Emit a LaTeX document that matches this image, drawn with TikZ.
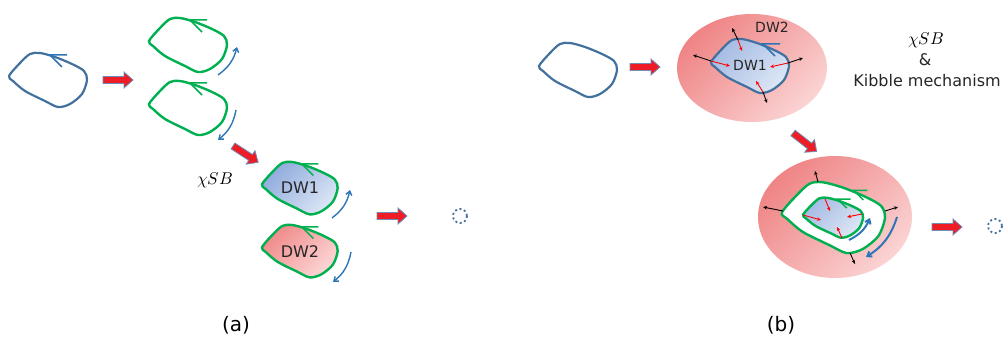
\documentclass[tikz,border=0pt]{standalone}
\usepackage{fontspec}
\usepackage{unicode-math}
\setmainfont{DejaVu Sans}
\setmathfont{Latin Modern Math}
\usetikzlibrary{arrows.meta}

\definecolor{wallblue}{HTML}{41719C}
\definecolor{tickblue}{HTML}{2E75B6}
\definecolor{wallgreen}{HTML}{00B050}
\definecolor{arrowred}{HTML}{EE1C25}
\definecolor{arrowedge}{HTML}{6F8DB9}
\definecolor{dwblueA}{HTML}{8FAADC}
\definecolor{dwblueB}{HTML}{DCE6F5}
\definecolor{dwredA}{HTML}{F08A8A}
\definecolor{dwredB}{HTML}{FCD6D6}
\definecolor{ballA}{HTML}{EF8485}
\definecolor{ballB}{HTML}{FBD3D3}

\tikzset{
  bluewall/.style={draw=wallblue, line width=2.2pt},
  greenwall/.style={draw=wallgreen, line width=2.4pt},
  blueshade/.style={top color=dwblueA, bottom color=dwblueB, shading angle=45},
  paleshade/.style={top color=dwblueA!80, bottom color=dwblueB, shading angle=45},
  redshade/.style={top color=dwredA, bottom color=dwredB, shading angle=45},
  bluetick/.style={draw=tickblue, line width=1.5pt},
  greentick/.style={draw=wallgreen, line width=1.5pt},
  redblock/.style={fill=arrowred, draw=arrowedge, line width=0.8pt},
  swirl/.style={draw=tickblue, line width=1.4pt, -{Straight Barb[length=4pt,width=6pt]}},
  bigswirl/.style={swirl, line width=2pt},
  push/.style={draw=black, line width=0.9pt, -{Stealth[length=4pt,width=3.5pt]}},
  pull/.style={draw=red, line width=0.9pt, -{Stealth[length=4pt,width=3.5pt]}},
  dotloop/.style={draw=wallblue, line width=1.8pt, dash pattern=on 2pt off 2.6pt},
  dwtext/.style={font=\fontsize{16}{18}\selectfont, text=black!85},
  dwsmall/.style={font=\fontsize{14}{16}\selectfont, text=black!85},
  mathtext/.style={font=\fontsize{17}{19}\selectfont},
  note/.style={font=\fontsize{16}{18}\selectfont, text=black!85},
  captext/.style={font=\fontsize{20}{22}\selectfont},
  wall/.pic={\path[#1] plot[smooth cycle] coordinates {(0,24) (11,11) (21,2) (31,1) (46,5) (63,12) (75,19) (78,28) (73,42) (61,52) (49,55) (36,49) (16,39) (4,29)};},
  tick/.pic={\path[#1] (58,3) -- (41,3) -- (53,15);},
  fatarrow/.pic={\path[redblock] (0,-3.5) -- (21,-3.5) -- (21,-8) -- (30,0) -- (21,8) -- (21,3.5) -- (0,3.5) -- cycle;}
}

\begin{document}
\begin{tikzpicture}[x=1pt, y=-1pt]
	\useasboundingbox (0,0) rectangle (1003,339);

	% (a) one loop splits into two walls
	\pic at (9,52) {wall={bluewall}};
	\pic at (9,52) {tick={bluetick}};
	\pic at (103,80) {fatarrow};
	\pic at (149,17) {wall={greenwall}};
	\pic at (149,17) {tick={greentick}};
	\pic at (149,80) {wall={greenwall}};
	\pic at (149,80) {tick={greentick}};
	\draw[swirl] (218,75) to[bend right=20] (237,47);
	\draw[swirl] (236,110) to[bend left=20] (218,140);
	\pic[rotate=-33] at (233,146) {fatarrow};

	\node[mathtext] (sba) at (215,180) {$\chi SB$};
	\pic[scale=0.97] at (262,161) {wall={greenwall, blueshade}};
	\pic[scale=0.97] at (262,161) {tick={greentick}};
	\node[dwtext] (dw1a) at (300,188) {DW1};
	\pic[scale=0.97] at (262,224) {wall={greenwall, redshade}};
	\pic[scale=0.97] at (262,224) {tick={greentick}};
	\node[dwtext] (dw2a) at (300,252) {DW2};
	\draw[swirl] (332,218) to[bend right=20] (350,190);
	\draw[swirl] (351,252) to[bend left=20] (333,282);
	\pic at (377,216) {fatarrow};
	\draw[dotloop] (460,216) circle [radius=7];
	\node[captext] (capa) at (236,325) {(a)};

	% (b) wall inside a bubble
	\pic at (539,42) {wall={bluewall}};
	\pic at (630,67) {fatarrow};
	\shade[top color=ballA, bottom color=ballB, shading angle=45] (752,68) ellipse [x radius=75, y radius=54];
	\pic at (711,38) {wall={bluewall, paleshade}};
	\pic at (722,41) {tick={bluetick}};
	\node[dwsmall] (dw2b) at (772,27) {DW2};
	\node[dwsmall] (dw1b) at (750,65) {DW1};
	\draw[push] (738,40) -- (732,28);
	\draw[push] (711,61) -- (693,55);
	\draw[push] (788,63) -- (803,58);
	\draw[push] (763,92) -- (767,103);
	\draw[pull] (738,40) -- (742,51);
	\draw[pull] (711,61) -- (730,66);
	\draw[pull] (788,63) -- (770,67);
	\draw[pull] (763,92) -- (756,81);

	\node[mathtext] (sbb) at (926,40) {$\chi SB$};
	\node[note] (amp) at (925,60) {\&};
	\node[note] (kibble) at (927,81) {Kibble mechanism};

	\pic[rotate=-38] at (793,133) {fatarrow};
	\shade[top color=ballA, bottom color=ballB, shading angle=45] (835,217) ellipse [x radius=77, y radius=61];
	\pic[xscale=1.32, yscale=1.31] at (782,181) {wall={greenwall, fill=white}};
	\pic[scale=0.8] at (821,188) {tick={greentick}};
	\pic[xscale=0.77, yscale=0.74] at (803,197) {wall={greenwall, paleshade}};
	\pic[xscale=0.77, yscale=0.74] at (806,197) {tick={greentick}};
	\draw[push] (818,182) -- (815,171);
	\draw[push] (783,211) -- (763,207);
	\draw[push] (885,211) -- (898,207);
	\draw[push] (850,253) -- (855,264);
	\draw[pull] (825,199) -- (830,211);
	\draw[pull] (803,215) -- (821,220);
	\draw[pull] (862,214) -- (847,217);
	\draw[pull] (842,238) -- (837,227);
	\draw[bigswirl] (849,240) to[bend right=20] (870,218);
	\draw[bigswirl] (897,217) to[bend left=20] (866,257);
	\pic at (932,227) {fatarrow};
	\draw[dotloop] (995,226) circle [radius=7];
	\node[captext] (capb) at (781,325) {(b)};
\end{tikzpicture}
\end{document}
